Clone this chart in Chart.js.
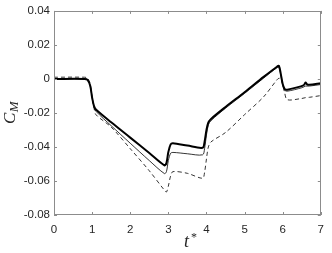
<!DOCTYPE html>
<html>
<head>
<meta charset="utf-8">
<script src="https://cdn.jsdelivr.net/npm/chart.js@4.4.1/dist/chart.umd.min.js"></script>
<style>
    html, body { margin: 0; padding: 0; background: #fff; }
    canvas { display: block; }
</style>
</head>
<body>
<canvas id="cmChart" width="332" height="253"></canvas>
<script>
// time samples (t*)
const tValues = [0, 0.8, 0.88, 0.95, 1.0, 1.05, 1.1, 1.5, 2.0, 2.5, 2.9, 2.95, 3.0, 3.06, 3.12, 3.5, 3.9, 3.95, 4.0, 4.05, 4.12, 4.5, 5.0, 5.5, 5.85, 5.9, 5.95, 6.0, 6.05, 6.12, 6.5, 6.56, 6.6, 6.64, 6.7, 7.0];

// C_M series
const thickCM  = [0, 0, -0.0005, -0.004, -0.011, -0.016, -0.018, -0.0255, -0.0345, -0.0435, -0.0508, -0.0495, -0.043, -0.0385, -0.0378, -0.0392, -0.0405, -0.037, -0.030, -0.0255, -0.0235, -0.0165, -0.0078, 0.0012, 0.0072, 0.0077, 0.003, -0.003, -0.0058, -0.0063, -0.0042, -0.0035, -0.0021, -0.0032, -0.0034, -0.0025];
const thinCM   = [0, 0, -0.0005, -0.004, -0.011, -0.0165, -0.019, -0.0275, -0.0378, -0.048, -0.0557, -0.0545, -0.048, -0.0437, -0.0432, -0.044, -0.0446, -0.041, -0.033, -0.027, -0.0245, -0.0172, -0.0085, 0.0005, 0.0066, 0.0068, 0.0025, -0.0038, -0.0066, -0.0072, -0.0052, -0.0046, -0.0042, -0.0042, -0.0042, -0.0033];
const dashedCM = [0.001, 0.001, 0.0005, -0.003, -0.011, -0.017, -0.021, -0.0283, -0.041, -0.054, -0.0655, -0.0665, -0.063, -0.057, -0.0545, -0.0555, -0.0584, -0.055, -0.047, -0.040, -0.037, -0.0315, -0.021, -0.0105, -0.0005, 0.0004, 0.0, -0.003, -0.008, -0.0122, -0.0115, -0.0112, -0.011, -0.0109, -0.0108, -0.0098];

const xTicks = [0, 1, 2, 3, 4, 5, 6, 7];
const yTicks = [-0.08, -0.06, -0.04, -0.02, 0, 0.02, 0.04];

function toPoints(ys) {
    return tValues.map((t, i) => ({ x: t, y: ys[i] }));
}

// frame, inward ticks and the math-style axis titles
const matlabAxes = {
    id: 'matlabAxes',
    afterDraw(chart) {
        const ctx = chart.ctx;
        const a = chart.chartArea;
        const xs = chart.scales.x;
        const ys = chart.scales.y;
        const tl = 3;
        ctx.save();
        ctx.strokeStyle = '#8c8c8c';
        ctx.lineWidth = 1;
        ctx.strokeRect(Math.round(a.left) + 0.5, Math.round(a.top) + 0.5,
            Math.round(a.right - a.left) - 1, Math.round(a.bottom - a.top) - 1);
        ctx.beginPath();
        xTicks.forEach(v => {
            const px = Math.round(xs.getPixelForValue(v)) + 0.5;
            ctx.moveTo(px, a.bottom); ctx.lineTo(px, a.bottom - tl);
            ctx.moveTo(px, a.top); ctx.lineTo(px, a.top + tl);
        });
        yTicks.forEach(v => {
            const py = Math.round(ys.getPixelForValue(v)) + 0.5;
            ctx.moveTo(a.left, py); ctx.lineTo(a.left + tl, py);
            ctx.moveTo(a.right, py); ctx.lineTo(a.right - tl, py);
        });
        ctx.stroke();

        // y title: C_M
        ctx.fillStyle = '#262626';
        ctx.translate(15, 124);
        ctx.rotate(-Math.PI / 2);
        ctx.textBaseline = 'alphabetic';
        ctx.textAlign = 'left';
        ctx.font = 'italic 17px "Liberation Serif", serif';
        ctx.fillText('C', 0, 0);
        const cw = ctx.measureText('C').width;
        ctx.font = 'italic 13px "Liberation Serif", serif';
        ctx.fillText('M', cw + 0.5, 3);
        ctx.setTransform(1, 0, 0, 1, 0, 0);

        // x title: t*
        ctx.font = 'italic 18px "Liberation Serif", serif';
        ctx.fillText('t', 184, 247);
        ctx.font = '12px "Liberation Serif", serif';
        ctx.fillText('*', 191, 241);
        ctx.restore();
    }
};

new Chart(document.getElementById('cmChart'), {
    type: 'line',
    data: {
        datasets: [
            {
                label: 'dashed',
                data: toPoints(dashedCM),
                borderColor: '#000',
                borderWidth: 0.8,
                borderDash: [4, 3],
                pointRadius: 0,
                tension: 0.3
            },
            {
                label: 'thin',
                data: toPoints(thinCM),
                borderColor: '#000',
                borderWidth: 0.8,
                pointRadius: 0,
                tension: 0.3
            },
            {
                label: 'thick',
                data: toPoints(thickCM),
                borderColor: '#000',
                borderWidth: 2,
                pointRadius: 0,
                tension: 0.3
            }
        ]
    },
    options: {
        responsive: false,
        animation: false,
        layout: { padding: { top: 6, right: 4, left: 0, bottom: 0 } },
        plugins: {
            legend: { display: false },
            tooltip: { enabled: false }
        },
        scales: {
            x: {
                type: 'linear',
                min: 0,
                max: 7,
                grid: { display: false, drawTicks: false },
                border: { display: false },
                afterBuildTicks: s => { s.ticks = xTicks.map(v => ({ value: v })); },
                afterFit: s => { s.height = 38; },
                ticks: {
                    padding: 8,
                    color: '#262626',
                    font: { family: '"Liberation Sans", Arial, sans-serif', size: 11.5 },
                    callback: v => String(v)
                }
            },
            y: {
                min: -0.08,
                max: 0.04,
                grid: { display: false, drawTicks: false },
                border: { display: false },
                afterBuildTicks: s => { s.ticks = yTicks.map(v => ({ value: v })); },
                afterFit: s => { s.width = 54; },
                ticks: {
                    padding: 4,
                    color: '#262626',
                    font: { family: '"Liberation Sans", Arial, sans-serif', size: 11.5 },
                    callback: v => String(Number(v.toFixed(2)))
                }
            }
        }
    },
    plugins: [matlabAxes]
});
</script>
</body>
</html>
